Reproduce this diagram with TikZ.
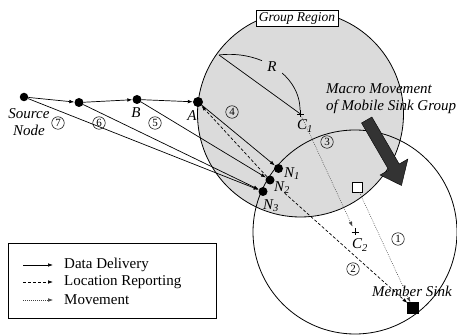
\documentclass[tikz,border=0pt]{standalone}
\usepackage{fontspec}
\setmainfont{Liberation Serif}
\usetikzlibrary{arrows.meta}
\definecolor{regiongrey}{gray}{0.86}
\definecolor{arrowdark}{gray}{0.2}
\begin{document}
\begin{tikzpicture}[x=1pt,y=-1pt,
  >={Latex[length=5pt,width=3.6pt]},
  dot/.style={circle,fill=black,inner sep=0pt,minimum size=9pt},
  data/.style={->,line width=0.7pt},
  report/.style={->,dash pattern=on 3pt off 2pt,line width=0.7pt},
  move/.style={->,dash pattern=on 0.8pt off 1.2pt,line width=0.5pt,draw=black!75},
  num/.style={circle,draw,line width=0.5pt,inner sep=0pt,minimum size=12.5pt,
              font=\fontsize{11}{11}\selectfont},
  lbl/.style={font=\fontsize{15}{17}\selectfont\itshape,inner sep=0pt},
  legtext/.style={font=\fontsize{15}{17}\selectfont,anchor=west,inner sep=0pt}]
\useasboundingbox (0,0) rectangle (457,336);

% region circles
\coordinate (C1) at (300.5,114);
\coordinate (C2) at (355,232);
\draw[line width=0.8pt,fill=regiongrey] (C1) circle[radius=103pt];
\draw[line width=0.8pt] (C2) circle[radius=102pt];

% region label
\node[draw,fill=white,line width=0.6pt,inner sep=1pt,minimum width=82pt,minimum height=16pt,
      font=\fontsize{13.5}{14}\selectfont\itshape] (GR) at (297,18) {Group Region};

% radius R
\coordinate (PR) at (219,55);
\draw[line width=0.7pt] (C1) -- (PR);
\draw[line width=0.7pt] (PR) .. controls (260,50) and (300,75) .. (300,110);
\node[circle,fill=regiongrey,minimum size=24pt,inner sep=0pt,
      font=\fontsize{15}{17}\selectfont\itshape] (R) at (272,67) {R};

% centre marks
\draw[line width=0.7pt] (C1) ++(-3.5,0) -- ++(7,0) (C1) ++(0,-3.5) -- ++(0,7);
\draw[line width=0.7pt] (C2) ++(-3.5,0) -- ++(7,0) (C2) ++(0,-3.5) -- ++(0,7);
\node[lbl] (C1lab) at (305,126) {C\textsubscript{1}};
\node[lbl] (C2lab) at (360,245) {C\textsubscript{2}};

% sensor nodes
\node[dot,minimum size=8.5pt] (S) at (24,97) {};
\node[dot] (P2) at (79,102.5) {};
\node[dot] (B) at (137,99.5) {};
\node[dot,minimum size=10pt] (A) at (198,102) {};
\node[dot] (N1) at (278.5,168.5) {};
\node[dot] (N2) at (270,180) {};
\node[dot] (N3) at (263,191.5) {};

\node[lbl,align=center] (Slab) at (29,122.5) {Source\\Node};
\node[lbl] (Blab) at (136,113) {B};
\node[lbl] (Alab) at (192,115.5) {A};
\node[lbl] (N1lab) at (292,174) {N\textsubscript{1}};
\node[lbl] (N2lab) at (282,187.5) {N\textsubscript{2}};
\node[lbl] (N3lab) at (271,206) {N\textsubscript{3}};

% sinks
\node[draw,fill=white,line width=0.8pt,minimum size=10pt,inner sep=0pt] (OS) at (357,187) {};
\node[draw,fill=black,minimum size=11pt,inner sep=0pt] (MS) at (413,308) {};
\node[lbl] (MSlab) at (412,291) {Member Sink};

% data delivery
\draw[data] (S) -- (P2);
\draw[data] (P2) -- (B);
\draw[data] (B) -- (A);
\draw[data] (A) -- (N1);
\draw[data] (B) -- (N2);
\draw[data] (P2) -- (N3);
\draw[data] (S) -- (N3);

% location reporting
\draw[report] (N2) -- (A);
\draw[report,shorten <=15pt] (N2) -- (MS);

% movement
\draw[move,shorten <=3pt,shorten >=6pt] (C1) -- (C2);
\draw[move] (OS) -- (MS);

% step numbers
\node[num] (n7) at (58,123) {7};
\node[num] (n6) at (99,123) {6};
\node[num] (n5) at (155,123) {5};
\node[num] (n4) at (232,112) {4};
\node[num] (n3) at (327,142) {3};
\node[num] (n2) at (353,269) {2};
\node[num] (n1) at (398,239) {1};

% macro movement arrow
\filldraw[fill=arrowdark,draw=black,line width=0.4pt]
  (371.9,117) -- (399.2,164) -- (407.9,159) -- (401.5,185.5)
  -- (380.1,175) -- (388.8,170) -- (361.5,123) -- cycle;
\node[lbl,align=left,anchor=west] (MM) at (326,99) {Macro Movement\\of Mobile Sink Group};

% legend
\node[draw,line width=0.7pt,minimum width=208pt,minimum height=75pt,inner sep=0pt,anchor=north west] (leg) at (8,243) {};
\coordinate (la1) at (23,265);  \coordinate (lb1) at (53,265);
\coordinate (la2) at (23,282);  \coordinate (lb2) at (53,282);
\coordinate (la3) at (23,300);  \coordinate (lb3) at (53,300);
\draw[data] (la1) -- (lb1);
\draw[report] (la2) -- (lb2);
\draw[move] (la3) -- (lb3);
\node[legtext] (t1) at (64,265) {Data Delivery};
\node[legtext] (t2) at (64,282) {Location Reporting};
\node[legtext] (t3) at (64,300) {Movement};
\end{tikzpicture}
\end{document}
